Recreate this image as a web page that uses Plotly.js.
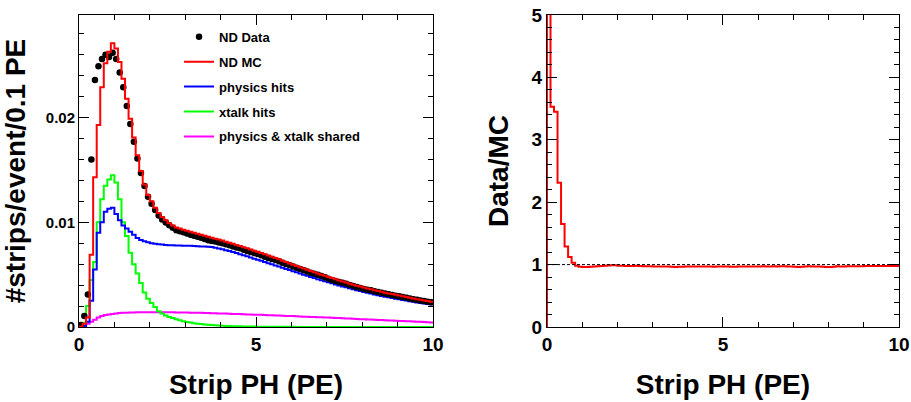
<!DOCTYPE html>
<html>
<head>
<meta charset="utf-8">
<script src="https://cdn.plot.ly/plotly-3.0.1.min.js"></script>
<style>html,body{margin:0;padding:0;background:#fff;}#chart{width:911px;height:402px;}</style>
</head>
<body>
<div id="chart"></div>
<script>
// 100 bins of 0.1 PE from 0 to 10 PE
const ndData = [
0.0002, 0.00106, 0.0031, 0.0160, 0.0236, 0.0249, 0.0256, 0.0260, 0.0258, 0.0262,
0.0256, 0.0243, 0.0229, 0.0211, 0.0194, 0.0177, 0.0161, 0.0147, 0.01346, 0.01245,
0.01178, 0.01117, 0.01066, 0.01026, 0.00999, 0.00972, 0.00949, 0.00925, 0.00914, 0.00905,
0.00893, 0.00881, 0.00872, 0.00862, 0.00853, 0.0084, 0.00828, 0.00822, 0.00816, 0.00808,
0.0080, 0.00791, 0.00782, 0.0077, 0.0076, 0.00751, 0.00738, 0.00726, 0.00717, 0.00707,
0.00697, 0.00685, 0.00672, 0.0066, 0.0065, 0.00639, 0.00627, 0.00613, 0.00601, 0.00589,
0.00578, 0.00567, 0.00553, 0.00541, 0.00531, 0.00519, 0.00509, 0.00498, 0.00486, 0.00474,
0.00462, 0.0045, 0.0044, 0.00431, 0.00422, 0.00412, 0.00402, 0.00391, 0.00382, 0.00372,
0.00363, 0.00356, 0.0035, 0.00342, 0.00334, 0.00327, 0.0032, 0.00313, 0.00306, 0.00299,
0.00293, 0.00286, 0.0028, 0.00273, 0.00265, 0.0026, 0.00254, 0.00248, 0.00242, 0.00237
];

const ndMC = [
0.00002, 0.0003, 0.0009, 0.0069, 0.0143, 0.0193, 0.0229, 0.0252, 0.0263, 0.0271,
0.0266, 0.0253, 0.0237, 0.0218, 0.0199, 0.0181, 0.0164, 0.0149, 0.0136, 0.0126,
0.0120, 0.0114, 0.0109, 0.0105, 0.0102, 0.0099, 0.0097, 0.0095, 0.0094, 0.0093,
0.0092, 0.0091, 0.0090, 0.0089, 0.0088, 0.00871, 0.00862, 0.00853, 0.00844, 0.00835,
0.00825, 0.00815, 0.00805, 0.00795, 0.00784, 0.00773, 0.00762, 0.00751, 0.0074, 0.00729,
0.00718, 0.00707, 0.00695, 0.00683, 0.00671, 0.00659, 0.00646, 0.00633, 0.0062, 0.00607,
0.00595, 0.00583, 0.0057, 0.00558, 0.00546, 0.00534, 0.00523, 0.00512, 0.0050, 0.00489,
0.00478, 0.00467, 0.00456, 0.00445, 0.00434, 0.00424, 0.00414, 0.00404, 0.00395, 0.00386,
0.00377, 0.00368, 0.0036, 0.00352, 0.00344, 0.00336, 0.00328, 0.00321, 0.00314, 0.00307,
0.0030, 0.00293, 0.00286, 0.00279, 0.00272, 0.00266, 0.0026, 0.00254, 0.00248, 0.00242
];

const physicsHits = [
0.0, 0.0001, 0.0005, 0.0025, 0.0055, 0.0090, 0.0100, 0.0110, 0.0113, 0.0114,
0.0108, 0.0102, 0.0097, 0.0094, 0.0091, 0.0088, 0.0085, 0.0083, 0.0082, 0.0081,
0.0080, 0.00795, 0.0079, 0.00787, 0.00784, 0.00782, 0.0078, 0.00779, 0.00778, 0.00777,
0.00776, 0.00775, 0.00774, 0.00772, 0.0077, 0.00768, 0.00767, 0.00765, 0.00758, 0.0075,
0.00742, 0.00734, 0.00725, 0.00716, 0.00706, 0.00696, 0.00686, 0.00675, 0.00664, 0.00653,
0.00642, 0.00632, 0.00621, 0.0061, 0.00599, 0.00588, 0.00577, 0.00566, 0.00555, 0.00544,
0.00533, 0.00522, 0.00511, 0.0050, 0.00489, 0.00478, 0.00467, 0.00457, 0.00447, 0.00437,
0.00427, 0.00417, 0.00407, 0.00397, 0.00388, 0.00379, 0.0037, 0.00361, 0.00352, 0.00343,
0.00335, 0.00327, 0.00319, 0.00311, 0.00304, 0.00297, 0.0029, 0.00283, 0.00276, 0.0027,
0.00264, 0.00258, 0.00252, 0.00246, 0.0024, 0.00235, 0.0023, 0.00225, 0.0022, 0.00215
];

const xtalkHits = [
0.0001, 0.0004, 0.0020, 0.0045, 0.0062, 0.0100, 0.0122, 0.0135, 0.0141, 0.0145,
0.0138, 0.0122, 0.0100, 0.0087, 0.0071, 0.0060, 0.0051, 0.0042, 0.0033, 0.0027,
0.0023, 0.0019, 0.0015, 0.0013, 0.0011, 0.00095, 0.00085, 0.00075, 0.00065, 0.00055,
0.00048, 0.00042, 0.00037, 0.00032, 0.00028, 0.00024, 0.00021, 0.00018, 0.00016, 0.00014,
0.00012, 0.0001, 0.00009, 0.00008, 0.00007, 0.00006, 0.00005, 0.00005, 0.00004, 0.00004,
0.00003, 0.00003, 0.00003, 0.00003, 0.00002, 0.00002, 0.00002, 0.00002, 0.00002, 0.00002,
0.00002, 0.00001, 0.00001, 0.00001, 0.00001, 0.00001, 0.00001, 0.00001, 0.00001, 0.00001,
0.00001, 0.00001, 0.00001, 0.00001, 0.00001, 0.00001, 0.00001, 0.00001, 0.00001, 0.00001,
0.00001, 0.00001, 0.00001, 0.00001, 0.00001, 0.00001, 0.00001, 0.00001, 0.00001, 0.00001,
0.00001, 0.00001, 0.00001, 0.00001, 0.00001, 0.00001, 0.00001, 0.00001, 0.00001, 0.00001
];

const sharedHits = [
0.00002, 0.0001, 0.0003, 0.0005, 0.0007, 0.0009, 0.00105, 0.00115, 0.0012, 0.00125,
0.0013, 0.00133, 0.00135, 0.00137, 0.00138, 0.00139, 0.0014, 0.0014, 0.0014, 0.0014,
0.0014, 0.0014, 0.0014, 0.0014, 0.0014, 0.0014, 0.0014, 0.00139, 0.00139, 0.00138,
0.00138, 0.00137, 0.00137, 0.00136, 0.00135, 0.00134, 0.00133, 0.00132, 0.00131, 0.0013,
0.0013, 0.00128, 0.00127, 0.00125, 0.00124, 0.00123, 0.00121, 0.0012, 0.00119, 0.00118,
0.00118, 0.00116, 0.00115, 0.00113, 0.00112, 0.00111, 0.00109, 0.00108, 0.00106, 0.00105,
0.00104, 0.00102, 0.00101, 0.00099, 0.00098, 0.00096, 0.00095, 0.00093, 0.00092, 0.0009,
0.0009, 0.00088, 0.00086, 0.00085, 0.00083, 0.00082, 0.0008, 0.00078, 0.00077, 0.00075,
0.00074, 0.00072, 0.00071, 0.00069, 0.00067, 0.00066, 0.00064, 0.00063, 0.00061, 0.0006,
0.00058, 0.00057, 0.00055, 0.00054, 0.00052, 0.00051, 0.00049, 0.00048, 0.00046, 0.00044
];

const dataOverMC = [
9.0, 3.53, 3.45, 2.31, 1.65, 1.29, 1.12, 1.03, 0.98, 0.965,
0.963, 0.962, 0.966, 0.970, 0.974, 0.978, 0.982, 0.985, 0.990, 0.988,
0.982, 0.980, 0.978, 0.977, 0.979, 0.982, 0.978, 0.974, 0.972, 0.973,
0.971, 0.968, 0.969, 0.969, 0.969, 0.964, 0.960, 0.964, 0.967, 0.968,
0.970, 0.970, 0.971, 0.969, 0.970, 0.971, 0.968, 0.967, 0.969, 0.970,
0.971, 0.969, 0.967, 0.966, 0.968, 0.969, 0.970, 0.968, 0.969, 0.970,
0.971, 0.972, 0.970, 0.969, 0.972, 0.971, 0.974, 0.972, 0.971, 0.969,
0.966, 0.963, 0.964, 0.968, 0.972, 0.971, 0.970, 0.968, 0.966, 0.963,
0.962, 0.967, 0.972, 0.971, 0.970, 0.973, 0.975, 0.974, 0.973, 0.974,
0.976, 0.977, 0.978, 0.977, 0.976, 0.978, 0.977, 0.976, 0.977, 0.978
];

const xTickVals = [0, 5, 10];
const xTickText = ['0', '5', '10'];

// ---- helpers: histogram outline (ROOT style) from bin contents ----
function edge(k) { return Math.round(k) / 10; }
function stepXY(vals) {
  const x = [0], y = [0];
  for (let k = 0; k < vals.length; k++) { x.push(edge(k)); y.push(vals[k]); }
  x.push(edge(vals.length)); y.push(vals[vals.length - 1]);
  return {x, y};
}
const centers = ndData.map((_, k) => (2 * k + 1) / 20);

const FONT = 'Liberation Sans, Arial, Helvetica, sans-serif';

function histTrace(vals, name, color, rank, xa, ya, showleg) {
  const s = stepXY(vals);
  return {
    type: 'scatter', mode: 'lines', x: s.x, y: s.y, name: name,
    line: {shape: 'hv', color: color, width: 2},
    xaxis: xa, yaxis: ya, legendrank: rank, legendgroup: name,
    showlegend: showleg, hoverinfo: 'skip'
  };
}

const traces = [
  histTrace(sharedHits, 'physics & xtalk shared', '#ff00ff', 5, 'x', 'y', true),
  histTrace(xtalkHits, 'xtalk hits', '#00ff00', 4, 'x', 'y', true),
  histTrace(physicsHits, 'physics hits', '#0000ff', 3, 'x', 'y', true),
  {
    type: 'scatter', mode: 'markers', x: centers, y: ndData, name: 'ND Data',
    marker: {color: '#000000', size: 6.5, symbol: 'circle'},
    xaxis: 'x', yaxis: 'y', legendrank: 1, legendgroup: 'ND Data', showlegend: true,
    cliponaxis: true
  },
  histTrace(ndMC, 'ND MC', '#ff0000', 2, 'x', 'y', true),
  histTrace(dataOverMC, 'Data/MC', '#ff0000', 6, 'x2', 'y2', false)
];

function axisBase(extra) {
  return Object.assign({
    showline: true, linecolor: '#000', linewidth: 1, mirror: 'allticks',
    ticks: 'inside', ticklen: 10, tickwidth: 1, tickcolor: '#000',
    showgrid: false, zeroline: false, fixedrange: true,
    tickfont: {family: FONT, size: 19, color: '#000', weight: 700}
  }, extra);
}

const titleFont = {family: FONT, size: 28, color: '#000', weight: 700};

const layout = {
  width: 911, height: 402,
  margin: {l: 79, r: 12, t: 15, b: 75},
  paper_bgcolor: '#fff', plot_bgcolor: '#fff',
  showlegend: true,
  legend: {
    x: 0.122, y: 0.978, xanchor: 'left', yanchor: 'top',
    bgcolor: 'rgba(0,0,0,0)', borderwidth: 0,
    traceorder: 'grouped', tracegroupgap: 5,
    font: {family: FONT, size: 13, color: '#000', weight: 700}
  },
  xaxis: axisBase({
    domain: [0, 0.4317], range: [0, 10], anchor: 'y',
    tickmode: 'array', tickvals: xTickVals, ticktext: xTickText,
    minor: {ticks: 'inside', dtick: 1, tick0: 0, ticklen: 5, tickcolor: '#000', showgrid: false},
    title: {text: 'Strip PH (PE)', font: titleFont, standoff: 20}
  }),
  yaxis: axisBase({
    domain: [0, 1], range: [0, 0.0298], anchor: 'x',
    dtick: 0.01, tick0: 0,
    minor: {ticks: 'inside', dtick: 0.002, tick0: 0, ticklen: 5, tickcolor: '#000', showgrid: false},
    tickfont: {family: FONT, size: 15, color: '#000', weight: 700},
    title: {text: '#strips/event/0.1 PE', font: titleFont, standoff: 12}
  }),
  xaxis2: axisBase({
    domain: [0.5707, 1], range: [0, 10], anchor: 'y2',
    tickmode: 'array', tickvals: xTickVals, ticktext: xTickText,
    minor: {ticks: 'inside', dtick: 1, tick0: 0, ticklen: 5, tickcolor: '#000', showgrid: false},
    title: {text: 'Strip PH (PE)', font: titleFont, standoff: 20}
  }),
  yaxis2: axisBase({
    domain: [0, 1], range: [0, 5], anchor: 'x2',
    dtick: 1, tick0: 0,
    minor: {ticks: 'inside', dtick: 0.2, tick0: 0, ticklen: 5, tickcolor: '#000', showgrid: false},
    title: {text: 'Data/MC', font: titleFont, standoff: 14}
  }),
  shapes: [{
    type: 'line', xref: 'x2', yref: 'y2', x0: 0, x1: 10, y0: 1, y1: 1,
    line: {color: '#000', width: 1, dash: '3px,2px'}, layer: 'above'
  }]
};

Plotly.newPlot('chart', traces, layout, {displayModeBar: false, staticPlot: true});
</script>
</body>
</html>
